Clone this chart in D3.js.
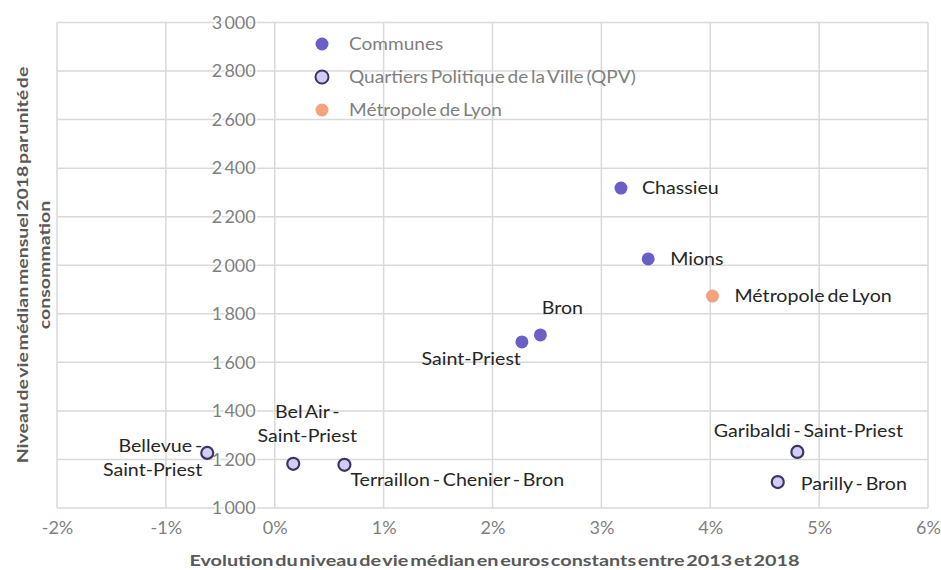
<!DOCTYPE html>
<html>
<head>
<meta charset="utf-8">
<script src="https://cdn.jsdelivr.net/npm/d3@7"></script>
<style>
  body { margin: 0; background: #fff; }
  svg text { font-family: Lato, "Open Sans", sans-serif; }
</style>
</head>
<body>
<div id="chart"></div>
<script>
// Data
var communes = [
  {name: "Chassieu", x: 3.18, y: 2318},
  {name: "Mions", x: 3.43, y: 2026},
  {name: "Bron", x: 2.44, y: 1713},
  {name: "Saint-Priest", x: 2.27, y: 1684}
];
var qpv = [
  {name: "Bellevue -\nSaint-Priest", x: -0.62, y: 1227},
  {name: "Bel Air -\nSaint-Priest", x: 0.17, y: 1182},
  {name: "Terraillon - Chenier - Bron", x: 0.64, y: 1178},
  {name: "Garibaldi - Saint-Priest", x: 4.80, y: 1231},
  {name: "Parilly - Bron", x: 4.62, y: 1107}
];
var metropole = [
  {name: "Métropole de Lyon", x: 4.02, y: 1873}
];
var xTicks = [-2, -1, 0, 1, 2, 3, 4, 5, 6];
var yTicks = [1000, 1200, 1400, 1600, 1800, 2000, 2200, 2400, 2600, 2800, 3000];
var legendNames = ["Communes", "Quartiers Politique de la Ville (QPV)", "Métropole de Lyon"];

// label placement (offsets from point, anchor)
var labelPos = {
  "Chassieu": {dx: 21, dy: 0, anchor: "start"},
  "Mions": {dx: 22, dy: 0, anchor: "start"},
  "Bron": {dx: 22, dy: -27, anchor: "middle"},
  "Saint-Priest": {dx: -1, dy: 17, anchor: "end"},
  "Métropole de Lyon": {dx: 22, dy: 0, anchor: "start"},
  "Bellevue -\nSaint-Priest": {dx: -5, dy: 5, anchor: "end"},
  "Bel Air -\nSaint-Priest": {dx: 14, dy: -40, anchor: "middle"},
  "Terraillon - Chenier - Bron": {dx: 6, dy: 15, anchor: "start"},
  "Garibaldi - Saint-Priest": {dx: 11, dy: -21, anchor: "middle"},
  "Parilly - Bron": {dx: 23, dy: 2, anchor: "start"}
};

var W = 941, H = 570;
var margin = {top: 22.5, right: 13, bottom: 62, left: 57};
var width = W - margin.left - margin.right,
    height = H - margin.top - margin.bottom;

var xScale = d3.scaleLinear().domain([-2, 6]).range([0, width]);
var yScale = d3.scaleLinear().domain([1000, 3000]).range([height, 0]);

var loc = d3.formatLocale({decimal: ",", thousands: "\u2009", grouping: [3], currency: ["", " €"]});
var fmtY = loc.format(",d");

var svg = d3.select("#chart").append("svg")
  .attr("width", W)
  .attr("height", H);

var g = svg.append("g")
  .attr("transform", "translate(" + margin.left + "," + margin.top + ")");

// gridlines
g.append("g").selectAll("line.vg")
  .data(xTicks)
  .enter().append("line")
  .attr("x1", function(d) { return xScale(d); })
  .attr("x2", function(d) { return xScale(d); })
  .attr("y1", 0).attr("y2", height)
  .attr("stroke", "#d9d9d9").attr("stroke-width", 1.5);

g.append("g").selectAll("line.hg")
  .data(yTicks)
  .enter().append("line")
  .attr("x1", 0).attr("x2", width)
  .attr("y1", function(d) { return yScale(d); })
  .attr("y2", function(d) { return yScale(d); })
  .attr("stroke", "#d9d9d9").attr("stroke-width", 1.5);

// X axis labels
var xAxis = d3.axisBottom(xScale).tickValues(xTicks).tickSize(0).tickPadding(13)
  .tickFormat(function(d) { return d + "%"; });
var gx = g.append("g")
  .attr("transform", "translate(0," + height + ")")
  .call(xAxis);
gx.select(".domain").remove();
gx.selectAll("text").attr("fill", "#7f7f7f").style("font-size", "18px").style("font-family", "Lato");

// Y axis labels at 0%
var yAxis = d3.axisLeft(yScale).tickValues(yTicks).tickSize(0).tickPadding(19).tickFormat(fmtY);
var gy = g.append("g")
  .attr("transform", "translate(" + xScale(0) + ",0)")
  .call(yAxis);
gy.select(".domain").remove();
gy.selectAll("text").attr("fill", "#7f7f7f").style("font-size", "18px").style("font-family", "Lato")
  .attr("stroke", "#fff").attr("stroke-width", 3).attr("paint-order", "stroke");

// axis titles (the original is stretched horizontally)
svg.append("text")
  .attr("transform", "translate(" + (margin.left + width / 2 + 2) + ",566)scale(1.24,1)")
  .attr("text-anchor", "middle")
  .attr("fill", "#595959")
  .style("font-size", "16px").style("font-weight", "bold").style("word-spacing", "-2.5px")
  .text("Evolution du niveau de vie médian en euros constants entre 2013 et 2018");

var yt = svg.append("text")
  .attr("transform", "translate(28,265)rotate(-90)scale(1.22,1)")
  .attr("text-anchor", "middle")
  .attr("fill", "#595959")
  .style("font-size", "16px").style("font-weight", "bold").style("word-spacing", "-2.5px");
yt.append("tspan").attr("x", 0).attr("dy", 0).text("Niveau de vie médian mensuel 2018 par unité de");
yt.append("tspan").attr("x", 0).attr("dy", 22).text("consommation");

// points
function drawSeries(data, fill, stroke, sw) {
  g.append("g").selectAll("circle")
    .data(data)
    .enter().append("circle")
    .attr("cx", function(d) { return xScale(d.x); })
    .attr("cy", function(d) { return yScale(d.y); })
    .attr("r", sw ? 6 : 6.5)
    .attr("fill", fill)
    .attr("stroke", stroke)
    .attr("stroke-width", sw);
}
drawSeries(communes, "#6a5fc6", "none", 0);
drawSeries(qpv, "#d2cdf5", "#3a3563", 2.2);
drawSeries(metropole, "#f2a47c", "none", 0);

// point labels
var lh = 23.5;
var allPts = communes.concat(qpv, metropole);
allPts.forEach(function(d) {
  var p = labelPos[d.name];
  var lines = d.name.split("\n");
  var t = g.append("text")
    .attr("transform", "translate(" + (xScale(d.x) + p.dx) + "," + (yScale(d.y) + p.dy) + ")scale(1.09,1)")
    .attr("text-anchor", p.anchor)
    .attr("fill", "#262626")
    .style("font-size", "18px").style("word-spacing", "-2px");
  lines.forEach(function(l, i) {
    t.append("tspan")
      .attr("x", 0)
      .attr("y", (i - (lines.length - 1) / 2) * lh)
      .attr("dy", "0.35em")
      .text(l);
  });
});

// legend
var legend = svg.append("g");
var legendStyles = [
  {fill: "#6a5fc6", stroke: "none", sw: 0},
  {fill: "#d2cdf5", stroke: "#3a3563", sw: 2},
  {fill: "#f2a47c", stroke: "none", sw: 0}
];
legendNames.forEach(function(n, i) {
  var ly = 44 + i * 33;
  legend.append("circle")
    .attr("cx", 322).attr("cy", ly).attr("r", 6.5)
    .attr("fill", legendStyles[i].fill)
    .attr("stroke", legendStyles[i].stroke)
    .attr("stroke-width", legendStyles[i].sw);
  legend.append("text")
    .attr("transform", "translate(349," + ly + ")scale(1.06,1)")
    .attr("dy", "0.35em")
    .attr("fill", "#7f7f7f")
    .style("font-size", "18px").style("word-spacing", "-2px")
    .text(n);
});
</script>
</body>
</html>
